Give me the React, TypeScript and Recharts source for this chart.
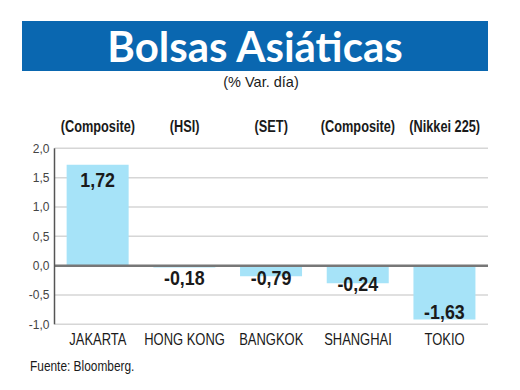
import React from "react";
import { BarChart, Bar, XAxis, YAxis, CartesianGrid, ReferenceLine, LabelList } from "recharts";

const categories = ["JAKARTA", "HONG KONG", "BANGKOK", "SHANGHAI", "TOKIO"];
const indexNames = ["(Composite)", "(HSI)", "(SET)", "(Composite)", "(Nikkei 225)"];
// bar heights as drawn in the picture
const barValues = [1.72, -0.03, -0.18, -0.3, -0.92];
// numbers printed on the bars
const valueLabels = ["1,72", "-0,18", "-0,79", "-0,24", "-1,63"];
const yTicks = [-1, -0.5, 0, 0.5, 1, 1.5, 2];

const data = categories.map((name, i) => ({
    name,
    index: indexNames[i],
    value: barValues[i],
    label: valueLabels[i],
}));

const sans = "'Liberation Sans', Arial, sans-serif";

// condensed look: regular font squeezed horizontally
const NarrowText = ({ x, y, size, bold, sx = 0.82, children }: any) => (
    <text
        transform={`translate(${x},${y}) scale(${sx},1)`}
        textAnchor="middle"
        dominantBaseline="central"
        fontFamily={sans}
        fontSize={size}
        fontWeight={bold ? "bold" : "normal"}
        fill="#1a1a1a"
    >
        {children}
    </text>
);

const BottomTick = ({ x, y, payload }: any) => (
    <NarrowText x={x} y={y + 15} size={16} sx={0.81}>
        {payload.value}
    </NarrowText>
);

const TopTick = ({ x, y, payload }: any) => (
    <NarrowText x={x} y={y - 23} size={17} bold sx={0.75}>
        {payload.value}
    </NarrowText>
);

const ValueLabel = (props: any) => {
    const { x, y, width, height, index } = props;
    const top = Math.min(y, y + height);
    const bottom = Math.max(y, y + height);
    const h = Math.abs(height);
    let cy;
    if (barValues[index] >= 0) {
        cy = top + 14.5;
    } else if (h > 40) {
        cy = bottom - 8;
    } else {
        cy = Math.max(bottom, top + 12);
    }
    return (
        <NarrowText x={x + width / 2} y={cy} size={21} bold sx={0.85}>
            {valueLabels[index]}
        </NarrowText>
    );
};

export default function App() {
    return (
        <div style={{ position: "absolute", left: 0, top: 0, width: 520, height: 390, background: "#fff" }}>
            <div
                style={{
                    position: "absolute",
                    left: 22,
                    top: 21,
                    width: 466,
                    height: 50,
                    background: "#0a67b0",
                    color: "#fff",
                    fontFamily: "Lato, sans-serif",
                    fontWeight: "bold",
                    fontSize: 42,
                    lineHeight: "50px",
                    textAlign: "center",
                }}
            >
                Bolsas Asiáticas
            </div>
            <div
                style={{
                    position: "absolute",
                    left: 0,
                    top: 74,
                    width: 522,
                    textAlign: "center",
                    fontFamily: sans,
                    fontSize: 14.5,
                    color: "#1a1a1a",
                }}
            >
                (% Var. día)
            </div>
            <div style={{ position: "absolute", left: 0, top: 0 }}>
                <BarChart
                    width={520}
                    height={390}
                    data={data}
                    margin={{ top: 108.3, right: 32, bottom: 35.7, left: 14.5 }}
                    barCategoryGap="14%"
                >
                    <CartesianGrid vertical={false} stroke="#d6d6d6" strokeWidth={1.5} />
                    <XAxis
                        xAxisId="top"
                        orientation="top"
                        dataKey="index"
                        height={40}
                        axisLine={false}
                        tickLine={false}
                        tickSize={0}
                        tickMargin={0}
                        interval={0}
                        tick={<TopTick />}
                    />
                    <XAxis
                        dataKey="name"
                        height={30}
                        axisLine={false}
                        tickLine={false}
                        tickSize={0}
                        tickMargin={0}
                        interval={0}
                        tick={<BottomTick />}
                    />
                    <YAxis
                        width={40}
                        domain={[-1, 2]}
                        ticks={yTicks}
                        interval={0}
                        axisLine={{ stroke: "#555", strokeWidth: 1.5 }}
                        tickLine={false}
                        tickSize={0}
                        tickMargin={5}
                        tickFormatter={(v: number) => v.toFixed(1).replace(".", ",")}
                        tick={{ fontFamily: sans, fontSize: 12, fill: "#444" }}
                    />
                    <Bar dataKey="value" fill="#a6e3f8" isAnimationActive={false}>
                        <LabelList dataKey="label" content={<ValueLabel />} />
                    </Bar>
                    <ReferenceLine y={0} stroke="#777" strokeWidth={2.5} />
                </BarChart>
            </div>
            <div
                style={{
                    position: "absolute",
                    left: 30,
                    top: 358,
                    fontFamily: sans,
                    fontSize: 14.5,
                    color: "#1a1a1a",
                    transform: "scaleX(0.82)",
                    transformOrigin: "0 0",
                    whiteSpace: "nowrap",
                }}
            >
                Fuente: Bloomberg.
            </div>
        </div>
    );
}
